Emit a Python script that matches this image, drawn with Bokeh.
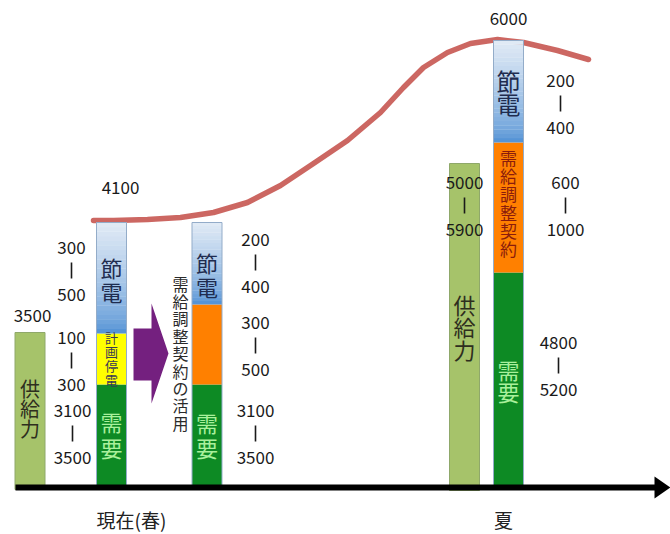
from bokeh.plotting import figure
from bokeh.models import Range1d
from bokeh.embed import file_html
from bokeh.resources import INLINE
from bokeh.core.properties import value

# ---------------- data ----------------
# bars (heights in drawing units above the time axis; the original is not to scale)
bar_names = ["spring_supply", "spring_now", "spring_dr", "summer_supply", "summer"]
supply_heights = [155, 324]                 # 供給力 (spring, summer)
demand_heights = [103, 103, 215]            # 需要 (spring now, spring w/ DR, summer)
blackout_heights = [51, 0, 0]               # 計画停電
dr_heights = [0, 80, 130]                   # 需給調整契約
saving_heights = [111, 82, 102]             # 節電

range_labels = [("300", "500"), ("100", "300"), ("3100", "3500"),
                ("200", "400"), ("300", "500"), ("3100", "3500"),
                ("200", "400"), ("600", "1000"), ("4800", "5200"),
                ("5000", "5900")]
peak_labels = ["3500", "4100", "6000"]
period_labels = ["現在(春)", "夏"]

curve_x = [93, 113, 147, 180, 213, 247, 280, 313, 347, 380, 403, 423, 447, 470, 497, 523, 557, 588]
curve_y = [267, 267, 268, 270, 275, 285, 302, 324, 347, 375, 400, 420, 435, 444, 448, 445, 437, 428]

# ---------------- layout / styles ----------------
W, H = 670, 534
bar_w = 30
x_supply = [29.5, 464]
x_stack = [111, 206.5, 508]

FONT = value("Noto Sans CJK JP")
C_SUPPLY = "#a6c36a"
C_DEMAND = "#0d8a24"
C_BLACKOUT = "#ffff00"
C_DR = "#ff8000"
C_BLUE_TOP = (224, 234, 245)
C_BLUE_BOT = (86, 148, 214)
C_BORDER = "#93acc9"

p = figure(width=W, height=H, x_range=Range1d(0, W), y_range=Range1d(487 - H, 487),
           output_backend="svg", toolbar_location=None, x_axis_type=None, y_axis_type=None,
           min_border=0, min_border_left=0, min_border_right=0, min_border_top=0, min_border_bottom=0)
p.grid.visible = False
p.outline_line_color = None
p.background_fill_color = "white"
p.border_fill_color = "white"

# demand curve (behind bars)
p.line(curve_x, curve_y, line_color="#c95f5a", line_width=5.5, line_alpha=0.95,
       line_cap="round", line_join="round")

# supply bars
p.vbar(x=x_supply, width=bar_w, bottom=[-2, -3], top=supply_heights,
       fill_color=C_SUPPLY, line_color="#8fa86a", line_width=1)

# stacked bars
bottoms = [0, 0, 0]
def add_seg(heights, color):
    xs, bs, ts = [], [], []
    for i, h in enumerate(heights):
        if h > 0:
            xs.append(x_stack[i]); bs.append(bottoms[i]); ts.append(bottoms[i] + h)
        bottoms[i] += h
    p.vbar(x=xs, width=bar_w, bottom=bs, top=ts, fill_color=color, line_color=None)

add_seg(demand_heights, C_DEMAND)
add_seg(blackout_heights, C_BLACKOUT)
add_seg(dr_heights, C_DR)

# 節電 with vertical gradient
N = 24
gx, gb, gt, gc = [], [], [], []
for i, h in enumerate(saving_heights):
    b0 = bottoms[i]
    for k in range(N):
        f = (k / (N - 1)) ** 0.7
        r = int(C_BLUE_BOT[0] + (C_BLUE_TOP[0] - C_BLUE_BOT[0]) * f)
        g = int(C_BLUE_BOT[1] + (C_BLUE_TOP[1] - C_BLUE_BOT[1]) * f)
        bl = int(C_BLUE_BOT[2] + (C_BLUE_TOP[2] - C_BLUE_BOT[2]) * f)
        gx.append(x_stack[i]); gb.append(b0 + h * k / N); gt.append(b0 + h * (k + 1) / N + 0.3)
        gc.append("#%02x%02x%02x" % (r, g, bl))
    bottoms[i] += h
p.vbar(x=gx, width=bar_w, bottom=gb, top=gt, fill_color=gc, line_color=None)

# bar outlines
p.vbar(x=x_stack, width=bar_w, bottom=[0, 0, 0], top=bottoms, fill_color=None,
       line_color=C_BORDER, line_width=1)

# purple arrow
p.patch([133, 151, 151, 168, 151, 151, 133], [159, 159, 184, 134, 84, 107, 107],
        fill_color="#74207f", line_color=None)

# time axis with arrow
p.segment(x0=[15], y0=[0], x1=[656], y1=[0], line_color="black", line_width=6)
p.patch([654, 670, 654], [11, 0, -11], fill_color="black", line_color=None)

# range labels (number / bar / number)
range_pos = [(71, 217), (71, 127), (72, 54),
             (255, 225), (255, 142), (255, 54),
             (560, 384), (565, 282), (558, 122),
             (464, 282)]
step = 23.5
tx, ty, tt = [], [], []
sx0, sy0, sy1 = [], [], []
for (a, b), (x, ym) in zip(range_labels, range_pos):
    tx += [x, x]; ty += [ym + step, ym - step]; tt += [a, b]
    sx0.append(x); sy0.append(ym - 8); sy1.append(ym + 8)
p.text(x=tx, y=ty, text=tt, text_font=FONT, text_font_size="17px", text_color="#1a1a1a",
       text_align="center", text_baseline="middle")
p.segment(x0=sx0, y0=sy0, x1=sx0, y1=sy1, line_color="#1a1a1a", line_width=1.6)

# peak labels
p.text(x=[32, 120, 508], y=[172, 300, 469], text=peak_labels, text_font=FONT,
       text_font_size="17px", text_color="#1a1a1a", text_align="center", text_baseline="middle")

# period labels
p.text(x=[131, 503], y=[-32, -32], text=period_labels, text_font=FONT,
       text_font_size="19px", text_color="#222222", text_align="center", text_baseline="middle")

# vertical texts inside / beside bars
vgroups = [
    ("節電", 111, 221, 24, "22px", "#1f2c4f"),
    ("計画停電", 111, 150, 14, "13px", "#3a3a55"),
    ("需要", 111, 67, 26, "22px", "#a9f09c"),
    ("供給力", 29.5, 99, 20, "20px", "#2e2e1e"),
    ("節電", 206.5, 226, 24, "22px", "#1f2c4f"),
    ("需要", 206.5, 66, 25, "22px", "#a9f09c"),
    ("需給調整契約の活用", 180, 204, 17.4, "16px", "#2a2a2a"),
    ("節電", 508, 407, 23, "24px", "#1f2c4f"),
    ("需給調整契約", 508, 330, 18.2, "17px", "#8a1c0c"),
    ("需要", 508, 119, 22, "22px", "#a9f09c"),
    ("供給力", 464, 184, 22.5, "22px", "#2e2e1e"),
]
for text, x, y0, st, size, color in vgroups:
    chars = list(text)
    p.text(x=[x] * len(chars), y=[y0 - st * k for k in range(len(chars))], text=chars,
           text_font=FONT, text_font_size=size, text_color=color,
           text_align="center", text_baseline="middle")

open("out.html", "w").write(file_html(p, INLINE))
